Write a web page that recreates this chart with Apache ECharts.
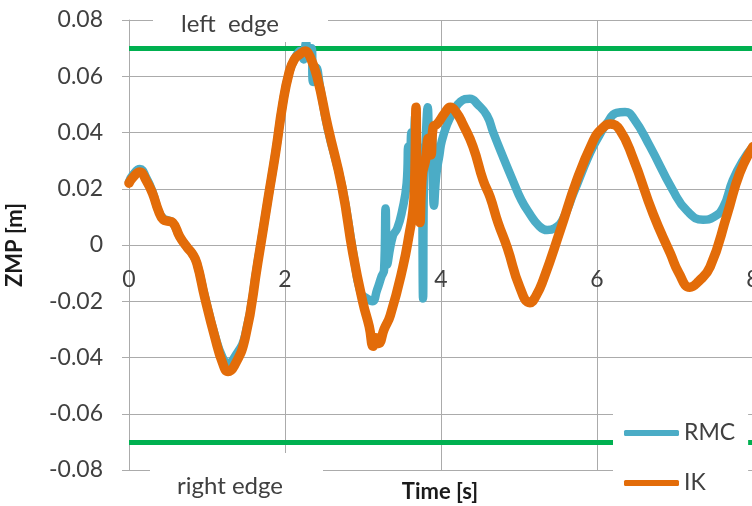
<!DOCTYPE html>
<html>
<head>
<meta charset="utf-8">
<script src="https://cdn.jsdelivr.net/npm/echarts@6/dist/echarts.min.js"></script>
<style>
  html, body { margin: 0; padding: 0; background: #fff; }
  #chart { width: 752px; height: 506px; }
</style>
</head>
<body>
<div id="chart"></div>
<script>
// ZMP trajectories over time: real robot (RMC) and inverse kinematics (IK)
const rmcTime = [0, 0.05, 0.14, 0.22, 0.30, 0.38, 0.44, 0.50, 0.56, 0.65,
  0.75, 0.81, 0.87, 0.97, 1.10, 1.20, 1.27, 1.35, 1.49, 1.65,
  1.78, 1.88, 1.97, 2.05, 2.12, 2.20, 2.24, 2.27, 2.30, 2.34,
  2.36, 2.40, 2.45, 2.55, 2.73, 2.87, 2.97, 3.05, 3.12, 3.18,
  3.24, 3.27, 3.29, 3.31, 3.38, 3.44, 3.50, 3.56, 3.58, 3.60,
  3.62, 3.64, 3.67, 3.69, 3.71, 3.73, 3.75, 3.77, 3.78, 3.80,
  3.83, 3.85, 3.88, 3.91, 3.94, 3.98, 4.01, 4.08, 4.15, 4.25,
  4.37, 4.47, 4.59, 4.67, 4.80, 4.92, 5.03, 5.14, 5.25, 5.36,
  5.46, 5.56, 5.70, 5.91, 6.03, 6.13, 6.25, 6.36, 6.47, 6.68,
  6.97, 7.16, 7.36, 7.50, 7.62, 7.74, 7.87, 8.00];
const rmcZmp = [0.0225, 0.025, 0.027, 0.024, 0.019, 0.012, 0.0095, 0.0088, 0.008, 0.003,
  -0.001, -0.003, -0.0065, -0.018, -0.032, -0.040, -0.042, -0.040, -0.032, -0.006,
  0.016, 0.033, 0.050, 0.061, 0.066, 0.069, 0.066, 0.072, 0.067, 0.070,
  0.058, 0.063, 0.056, 0.041, 0.021, -0.002, -0.017, -0.019, -0.020, -0.016,
  -0.011, -0.009, 0.013, -0.007, 0.003, 0.006, 0.012, 0.022, 0.035, 0.025,
  0.040, 0.030, 0.046, 0.025, 0.035, 0.015, 0.030, -0.019, 0.020, 0.035,
  0.049, 0.030, 0.042, 0.014, 0.025, 0.032, 0.037, 0.043, 0.047, 0.051,
  0.052, 0.050, 0.046, 0.040, 0.031, 0.023, 0.016, 0.011, 0.007, 0.0053,
  0.006, 0.009, 0.0185, 0.0327, 0.039, 0.0434, 0.047, 0.0473, 0.045, 0.035,
  0.0196, 0.012, 0.009, 0.010, 0.0135, 0.023, 0.030, 0.035];

const ikTime = [0, 0.05, 0.14, 0.22, 0.30, 0.38, 0.44, 0.50, 0.56, 0.65,
  0.75, 0.81, 0.87, 0.97, 1.10, 1.20, 1.27, 1.35, 1.49, 1.65,
  1.78, 1.88, 1.97, 2.05, 2.12, 2.20, 2.26, 2.32, 2.41, 2.55,
  2.73, 2.87, 3.00, 3.08, 3.13, 3.16, 3.20, 3.27, 3.35, 3.51,
  3.60, 3.64, 3.66, 3.68, 3.69, 3.71, 3.73, 3.76, 3.80, 3.84,
  3.87, 3.90, 3.95, 4.05, 4.12, 4.20, 4.28, 4.41, 4.54, 4.63,
  4.73, 4.85, 5.01, 5.14, 5.22, 5.31, 5.53, 5.74, 5.95, 6.05,
  6.17, 6.29, 6.46, 6.72, 6.94, 7.05, 7.19, 7.30, 7.45, 7.67,
  7.83, 8.00];
const ikZmp = [0.022, 0.024, 0.026, 0.023, 0.0185, 0.012, 0.009, 0.0085, 0.008, 0.003,
  -0.001, -0.003, -0.0065, -0.0185, -0.0327, -0.042, -0.045, -0.043, -0.033, -0.0065,
  0.016, 0.033, 0.050, 0.061, 0.066, 0.068, 0.069, 0.067, 0.060, 0.042,
  0.0206, -0.003, -0.0206, -0.029, -0.036, -0.033, -0.035, -0.030, -0.025, -0.008,
  0.005, 0.012, 0.020, 0.049, 0.010, 0.030, 0.008, 0.025, 0.030, 0.038,
  0.032, 0.042, 0.043, 0.047, 0.049, 0.047, 0.043, 0.035, 0.023, 0.017,
  0.008, -0.001, -0.015, -0.0205, -0.018, -0.0125, 0.0053, 0.023, 0.037, 0.041,
  0.043, 0.041, 0.031, 0.011, -0.003, -0.010, -0.015, -0.013, -0.0078, 0.011,
  0.0256, 0.035];

// support polygon limits
const edgeLimits = [0.07, -0.07];

// axis ticks
const xTickLabels = ['0', '2', '4', '6', '8'];
const yTickLabels = ['-0.08', '-0.06', '-0.04', '-0.02', '0', '0.02', '0.04', '0.06', '0.08'];

const FONT = 'Lato, "Open Sans", sans-serif';
const TEXT = '#404040';
const GRID = '#ABABAB';

const PLOT_TOP = 20, PLOT_H = 450;
const Y_MIN = -0.08, Y_MAX = 0.08;
// the time axis crosses the ZMP axis at zero
const zeroOffset = -PLOT_H * (0 - Y_MIN) / (Y_MAX - Y_MIN);

function pairs(xs, ys) { return xs.map((x, i) => [x, ys[i]]); }
function tickText(list, v, lo, step) {
  const i = Math.round((v - lo) / step);
  return list[i] !== undefined ? list[i] : '';
}

const chart = echarts.init(document.getElementById('chart'), null, { renderer: 'canvas' });
chart.setOption({
  animation: false,
  backgroundColor: '#fff',
  grid: { left: 129, top: PLOT_TOP, width: 624, height: PLOT_H, containLabel: false, outerBoundsMode: 'none' },
  xAxis: {
    type: 'value', min: 0, max: 8, interval: 2,
    offset: zeroOffset,
    axisLine: { show: true, onZero: false, lineStyle: { color: GRID, width: 1 } },
    axisTick: { show: false },
    axisLabel: {
      margin: 23, showMaxLabel: true, showMinLabel: true, hideOverlap: false,
      fontFamily: FONT, fontSize: 23, color: TEXT,
      formatter: v => tickText(xTickLabels, v, 0, 2)
    },
    splitLine: { show: true, lineStyle: { color: GRID, width: 1 } }
  },
  yAxis: {
    type: 'value', min: Y_MIN, max: Y_MAX, interval: 0.02,
    name: 'ZMP [m]', nameLocation: 'middle', nameGap: 103,
    nameTextStyle: { fontFamily: FONT, fontSize: 22, fontWeight: 'bold', color: '#1a1a1a' },
    axisLine: { show: true, onZero: false, lineStyle: { color: GRID, width: 1 } },
    axisTick: { show: true, length: 7, inside: false, lineStyle: { color: GRID } },
    axisLabel: {
      margin: 26, fontFamily: FONT, fontSize: 23, color: TEXT,
      formatter: v => tickText(yTickLabels, v, Y_MIN, 0.02)
    },
    splitLine: { show: true, lineStyle: { color: GRID, width: 1 } }
  },
  legend: {
    data: ['RMC', 'IK'],
    orient: 'vertical', left: 613, top: 400, z: 20,
    padding: [20, 13, 10, 11],
    backgroundColor: '#fff',
    icon: 'roundRect', itemWidth: 55, itemHeight: 6, itemGap: 24,
    textStyle: { fontFamily: FONT, fontSize: 23, color: TEXT, lineHeight: 26 }
  },
  series: [
    {
      name: 'edges', type: 'line', data: [], z: 1, silent: true,
      markLine: {
        silent: true, symbol: 'none', label: { show: false }, z: 1,
        lineStyle: { color: '#00B050', width: 5, type: 'solid' },
        data: edgeLimits.map(v => ({ yAxis: v }))
      }
    },
    {
      name: 'RMC', type: 'line', showSymbol: false, symbol: 'none', smooth: 0.5,
      data: pairs(rmcTime, rmcZmp), z: 2,
      itemStyle: { color: '#4BACC6' },
      lineStyle: { color: '#4BACC6', width: 8.5, cap: 'round', join: 'round' }
    },
    {
      name: 'IK', type: 'line', showSymbol: false, symbol: 'none', smooth: 0.5,
      data: pairs(ikTime, ikZmp), z: 3,
      itemStyle: { color: '#E36C09' },
      lineStyle: { color: '#E36C09', width: 9.5, cap: 'round', join: 'round' }
    }
  ],
  graphic: [
    { type: 'rect', z: 5, shape: { x: 153, y: 0, width: 175, height: 42 }, style: { fill: '#fff' } },
    { type: 'text', z: 6, style: { text: 'left  edge', x: 230, y: 24, align: 'center', verticalAlign: 'middle',
      font: '24px ' + FONT, fill: TEXT } },
    { type: 'rect', z: 5, shape: { x: 150, y: 453, width: 173, height: 53 }, style: { fill: '#fff' } },
    { type: 'text', z: 6, style: { text: 'right edge', x: 230, y: 486, align: 'center', verticalAlign: 'middle',
      font: '24px ' + FONT, fill: TEXT } },
    { type: 'text', z: 6, style: { text: 'Time [s]', x: 440, y: 492, align: 'center', verticalAlign: 'middle',
      font: 'bold 22px ' + FONT, fill: '#1a1a1a' } }
  ]
});
</script>
</body>
</html>
